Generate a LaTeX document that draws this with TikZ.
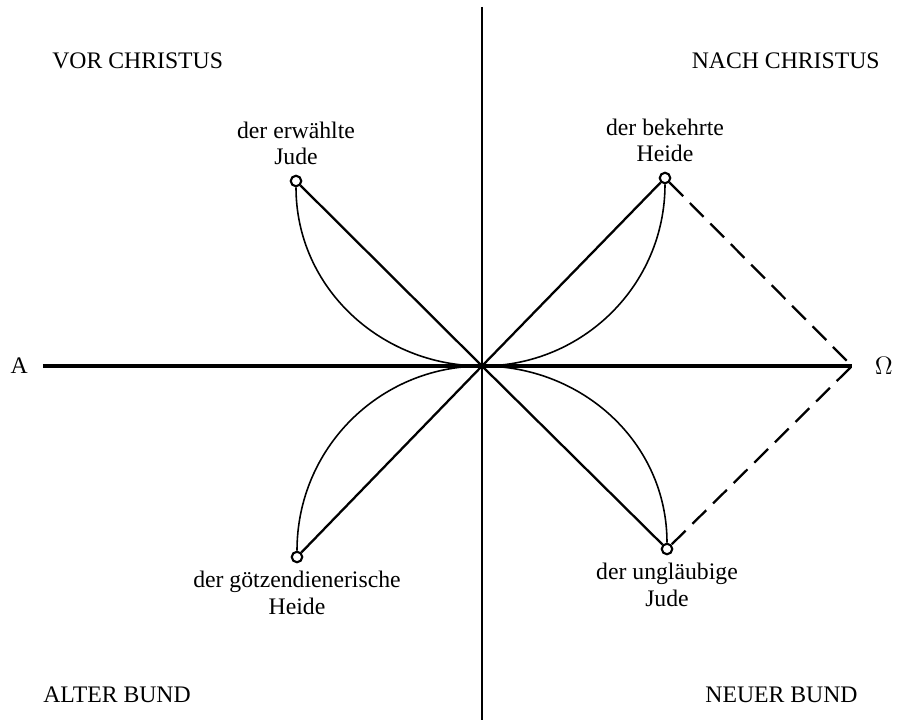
\documentclass[tikz,border=0pt]{standalone}
\usepackage{fontspec}
\setmainfont{Liberation Serif}
\usetikzlibrary{positioning}
\tikzset{
  axis/.style={line width=1.3pt, draw=black},
  timeline/.style={line width=1.8pt, draw=black},
  ray/.style={line width=1.3pt, draw=black},
  bow/.style={line width=0.9pt, draw=black},
  hull/.style={line width=1.3pt, draw=black, dash pattern=on 11pt off 5.5pt},
  station/.style={circle, draw, line width=1.2pt, inner sep=0pt, minimum size=0.21cm},
  caption/.style={align=center, font=\fontsize{13.5}{15}\selectfont, inner sep=1pt},
  epoch/.style={font=\fontsize{13.5}{15}\selectfont, inner sep=0pt}
}

\begin{document}
\begin{tikzpicture}
  \useasboundingbox (-9.64,-7.08) rectangle (8.32,7.32);
  % axes
  \coordinate (mid) at (0,0);
  \coordinate (alpha) at (-8.78,0);
  \coordinate (omega) at (7.40,0);
  \coordinate (top) at (0,7.18);
  \coordinate (bottom) at (0,-7.08);
  \draw[axis] (top) -- (bottom);
  \draw[timeline] (alpha) -- (omega);
  \node[epoch, left=0.3cm of alpha] (alphalabel) {A};
  \node[epoch, right=0.45cm of omega] (omegalabel) {$\Omega$};
  % epochs
  \node[epoch, anchor=west] (vor) at (-8.60,6.10) {VOR CHRISTUS};
  \node[epoch, anchor=east] (nach) at (7.96,6.10) {NACH CHRISTUS};
  \node[epoch, anchor=west] (alt) at (-8.78,-6.58) {ALTER BUND};
  \node[epoch, anchor=east] (neu) at (7.52,-6.58) {NEUER BUND};
  % stations
  \node[station] (jw) at (-3.72,3.70) {};
  \node[station] (bh) at (3.66,3.76) {};
  \node[station] (gh) at (-3.70,-3.82) {};
  \node[station] (uj) at (3.70,-3.66) {};
  \node[caption, above=0.15cm of jw] (jwtext) {der erwählte\\Jude};
  \node[caption, above=0.15cm of bh] (bhtext) {der bekehrte\\Heide};
  \node[caption, below=0.12cm of gh] (ghtext) {der götzendienerische\\Heide};
  \node[caption, below=0.12cm of uj] (ujtext) {der ungläubige\\Jude};
  % rays and bows
  \foreach \s in {jw,bh,gh,uj}
    \draw[ray] (\s) -- (mid);
  \draw[bow] (jw.south) to[out=-90,in=180] (mid);
  \draw[bow] (bh.south) to[out=-90,in=0] (mid);
  \draw[bow] (gh.north) to[out=90,in=180] (mid);
  \draw[bow] (uj.north) to[out=90,in=0] (mid);
  % new covenant
  \draw[hull] (bh) -- (omega) -- (uj);
\end{tikzpicture}
\end{document}
